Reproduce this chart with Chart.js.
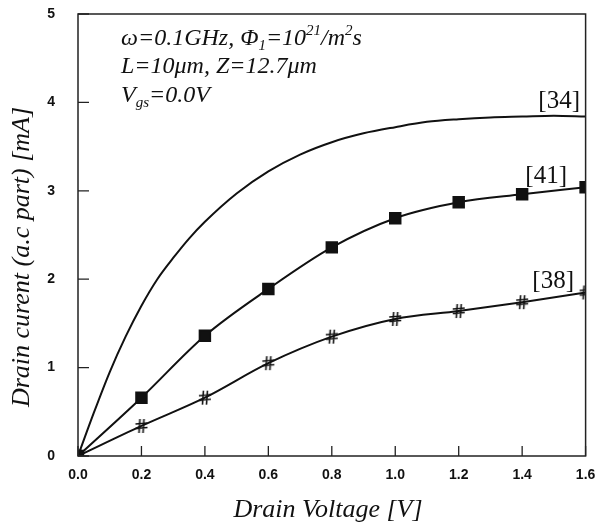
<!DOCTYPE html>
<html>
<head>
<meta charset="utf-8">
<script src="https://cdn.jsdelivr.net/npm/chart.js@4.4.1/dist/chart.umd.min.js"></script>
<style>
  body { margin: 0; background: #fff; }
  #wrap { width: 595px; height: 528px; }
</style>
</head>
<body>
<div id="wrap"><canvas id="drainChart"></canvas></div>
<script>
// drain voltage steps used by the marked curves
const voltages = [0, 0.2, 0.4, 0.6, 0.8, 1.0, 1.2, 1.4, 1.6];
// [41] squares
const current41 = [0, 0.66, 1.36, 1.89, 2.36, 2.69, 2.87, 2.96, 3.04];
// [38] hash markers
const current38 = [0, 0.34, 0.66, 1.05, 1.35, 1.55, 1.64, 1.74, 1.85];
// [34] plain curve, read at finer steps
const voltages34 = [0, 0.05, 0.1, 0.15, 0.2, 0.25, 0.3, 0.35, 0.4, 0.5, 0.6, 0.7, 0.8, 0.9, 1.0, 1.1, 1.2, 1.3, 1.4, 1.5, 1.6];
const current34 = [0, 0.49, 0.95, 1.35, 1.7, 2.0, 2.24, 2.46, 2.65, 2.97, 3.22, 3.41, 3.55, 3.65, 3.72, 3.78, 3.81, 3.83, 3.84, 3.85, 3.84];

const xTicks = [0, 0.2, 0.4, 0.6, 0.8, 1.0, 1.2, 1.4, 1.6];
const yTicks = [0, 1, 2, 3, 4, 5];

const toPoints = (xs, ys) => xs.map((x, i) => ({ x: x, y: ys[i] }));

// hash shaped marker for [38]
function hashMarker() {
    const c = document.createElement("canvas");
    c.width = 14;
    c.height = 16;
    const g = c.getContext("2d");
    g.strokeStyle = "#111";
    g.lineWidth = 1.6;
    g.beginPath();
    g.moveTo(5.5, 1); g.lineTo(4.5, 15);
    g.moveTo(9.5, 1); g.lineTo(8.5, 15);
    g.moveTo(1, 6); g.lineTo(13, 5);
    g.moveTo(1, 10.5); g.lineTo(13, 9.5);
    g.stroke();
    return c;
}

// draw a line of text made of runs: [text, "n" | "sub" | "sup"]
function drawRuns(ctx, runs, x, y) {
    runs.forEach(run => {
        const small = run[1] !== "n";
        ctx.font = small ? "italic 15px 'Liberation Serif'" : "italic 24px 'Liberation Serif'";
        let dy = 0;
        if (run[1] === "sub") dy = 5;
        if (run[1] === "sup") dy = -10;
        ctx.fillText(run[0], x, y + dy);
        x += ctx.measureText(run[0]).width;
    });
}

const framePlugin = {
    id: "frame",
    afterDraw(chart) {
        const ctx = chart.ctx;
        const a = chart.chartArea;
        const xs = chart.scales.x;
        const ys = chart.scales.y;
        ctx.save();
        ctx.strokeStyle = "#222";
        ctx.lineWidth = 1.5;
        ctx.strokeRect(a.left, a.top, a.right - a.left, a.bottom - a.top);

        // inward tick marks
        ctx.lineWidth = 1.3;
        ctx.beginPath();
        xTicks.forEach(v => {
            const px = xs.getPixelForValue(v);
            ctx.moveTo(px, a.bottom);
            ctx.lineTo(px, a.bottom - 10);
        });
        yTicks.forEach(v => {
            const py = ys.getPixelForValue(v);
            ctx.moveTo(a.left, py);
            ctx.lineTo(a.left + 11, py);
        });
        ctx.stroke();

        ctx.fillStyle = "#111";
        ctx.textBaseline = "alphabetic";
        ctx.textAlign = "left";
        drawRuns(ctx, [["ω=0.1GHz, Φ", "n"], ["1", "sub"], ["=10", "n"], ["21", "sup"], ["/m", "n"], ["2", "sup"], ["s", "n"]], 121, 45);
        drawRuns(ctx, [["L=10μm, Z=12.7μm", "n"]], 121, 73);
        drawRuns(ctx, [["V", "n"], ["gs", "sub"], ["=0.0V", "n"]], 121, 102);

        // series labels
        ctx.font = "25px 'Liberation Serif'";
        ctx.textAlign = "right";
        ctx.fillText("[34]", 580, 108);
        ctx.fillText("[41]", 567, 183);
        ctx.fillText("[38]", 574, 288);

        // axis titles
        ctx.font = "italic 26px 'Liberation Serif'";
        ctx.textAlign = "center";
        ctx.fillText("Drain Voltage [V]", 328, 517);
        ctx.save();
        ctx.translate(29, 257);
        ctx.rotate(-Math.PI / 2);
        ctx.fillText("Drain curent (a.c part) [mA]", 0, 0);
        ctx.restore();
        ctx.restore();
    }
};

const tickFont = { family: "'Liberation Sans', Arial", weight: "bold", size: 14 };

new Chart(document.getElementById("drainChart"), {
    type: "line",
    data: {
        datasets: [
            {
                label: "[34]",
                data: toPoints(voltages34, current34),
                borderColor: "#111",
                borderWidth: 2,
                pointRadius: 0,
                cubicInterpolationMode: "monotone"
            },
            {
                label: "[41]",
                data: toPoints(voltages, current41),
                borderColor: "#111",
                backgroundColor: "#111",
                borderWidth: 2,
                pointStyle: "rect",
                pointRadius: 7.4,
                cubicInterpolationMode: "monotone"
            },
            {
                label: "[38]",
                data: toPoints(voltages, current38),
                borderColor: "#111",
                borderWidth: 2,
                pointStyle: hashMarker(),
                cubicInterpolationMode: "monotone"
            }
        ]
    },
    options: {
        responsive: true,
        maintainAspectRatio: false,
        animation: false,
        layout: { padding: { top: 14, right: 9, left: 0, bottom: 0 } },
        plugins: { legend: { display: false }, tooltip: { enabled: false } },
        scales: {
            x: {
                type: "linear",
                min: 0,
                max: 1.6,
                afterFit: s => { s.height = 72; s.paddingLeft = 0; s.paddingRight = 0; },
                afterBuildTicks: s => { s.ticks = xTicks.map(v => ({ value: v })); },
                grid: { display: false, drawTicks: false },
                border: { display: false },
                ticks: {
                    color: "#111",
                    font: tickFont,
                    padding: 11,
                    callback: v => v.toFixed(1)
                }
            },
            y: {
                min: 0,
                max: 5,
                afterFit: s => { s.width = 78; s.paddingTop = 0; s.paddingBottom = 0; },
                afterBuildTicks: s => { s.ticks = yTicks.map(v => ({ value: v })); },
                grid: { display: false, drawTicks: false },
                border: { display: false },
                ticks: {
                    color: "#111",
                    font: tickFont,
                    padding: 23
                }
            }
        }
    },
    plugins: [framePlugin]
});
</script>
</body>
</html>
